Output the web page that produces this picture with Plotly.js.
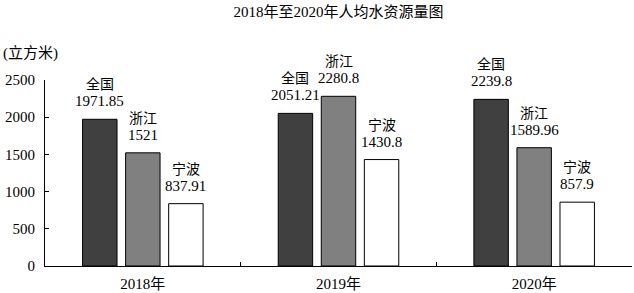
<!DOCTYPE html>
<html>
<head>
<meta charset="utf-8">
<script src="https://cdn.plot.ly/plotly-3.0.1.min.js"></script>
<style>html,body{margin:0;padding:0;background:#fff;}#chart{width:634px;height:293px;}</style>
</head>
<body>
<div id="chart"></div>
<script>
const categories = ["2018年", "2019年", "2020年"];
const seriesNames = ["全国", "浙江", "宁波"];
const quanguo = [1971.85, 2051.21, 2239.8];
const zhejiang = [1521, 2280.8, 1589.96];
const ningbo = [837.91, 1430.8, 857.9];
const yTicks = [0, 500, 1000, 1500, 2000, 2500];

const seriesValues = [quanguo, zhejiang, ningbo];
const fills = ["#404040", "#808080", "#ffffff"];
const FONT = "'Liberation Serif', 'Times New Roman', 'Noto Sans CJK SC', serif";
const bargap = 0.34;
const slot = (1 - bargap) / seriesNames.length;

const traces = seriesNames.map((name, k) => ({
  type: "bar",
  name: name,
  x: categories,
  y: seriesValues[k],
  marker: {color: fills[k], line: {color: "#000", width: 1}},
  hoverinfo: "none"
}));

const annotations = [];
seriesNames.forEach((name, k) => {
  categories.forEach((c, i) => {
    const xpos = i + (k - (seriesNames.length - 1) / 2) * slot;
    annotations.push({
      x: xpos, y: seriesValues[k][i], xref: "x", yref: "y",
      text: String(seriesValues[k][i]), showarrow: false, borderpad: 0,
      yanchor: "bottom", yshift: 9, font: {family: FONT, size: 15, color: "#000"}
    });
    annotations.push({
      x: xpos, y: seriesValues[k][i], xref: "x", yref: "y",
      text: name, showarrow: false, borderpad: 0,
      yanchor: "bottom", yshift: 26, font: {family: FONT, size: 14, color: "#000"}
    });
  });
});
annotations.push({
  xref: "paper", yref: "paper", x: -0.075, y: 1.145, xanchor: "left", yanchor: "middle",
  text: "(立方米)", showarrow: false, font: {family: FONT, size: 15, color: "#000"}
});

const layout = {
  width: 634, height: 293,
  margin: {l: 45, r: 2, t: 80, b: 27, pad: 0},
  paper_bgcolor: "#fff", plot_bgcolor: "#fff",
  showlegend: false,
  barmode: "group", bargap: bargap, bargroupgap: 0.2,
  font: {family: FONT, size: 15, color: "#000"},
  title: {text: "2018年至2020年人均水资源量图", x: 0.5, xref: "paper", xanchor: "center",
          y: 0.959, yref: "container", yanchor: "middle", font: {family: FONT, size: 15, color: "#000"}},
  xaxis: {type: "category", range: [-0.5, 2.5], showline: true, linecolor: "#000", linewidth: 1,
          ticks: "inside", tickson: "boundaries", ticklen: 4, tickcolor: "#000",
          showgrid: false, zeroline: false, tickfont: {family: FONT, size: 15, color: "#000"},
          ticklabelstandoff: 4},
  yaxis: {range: [0, 2500], tickvals: yTicks, showline: true, linecolor: "#000", linewidth: 1,
          ticks: "inside", ticklen: 4, tickcolor: "#000", showgrid: false, zeroline: false,
          tickfont: {family: FONT, size: 15, color: "#000"}, ticklabelstandoff: 6},
  annotations: annotations
};

Plotly.newPlot("chart", traces, layout, {staticPlot: true, displayModeBar: false});
</script>
</body>
</html>
